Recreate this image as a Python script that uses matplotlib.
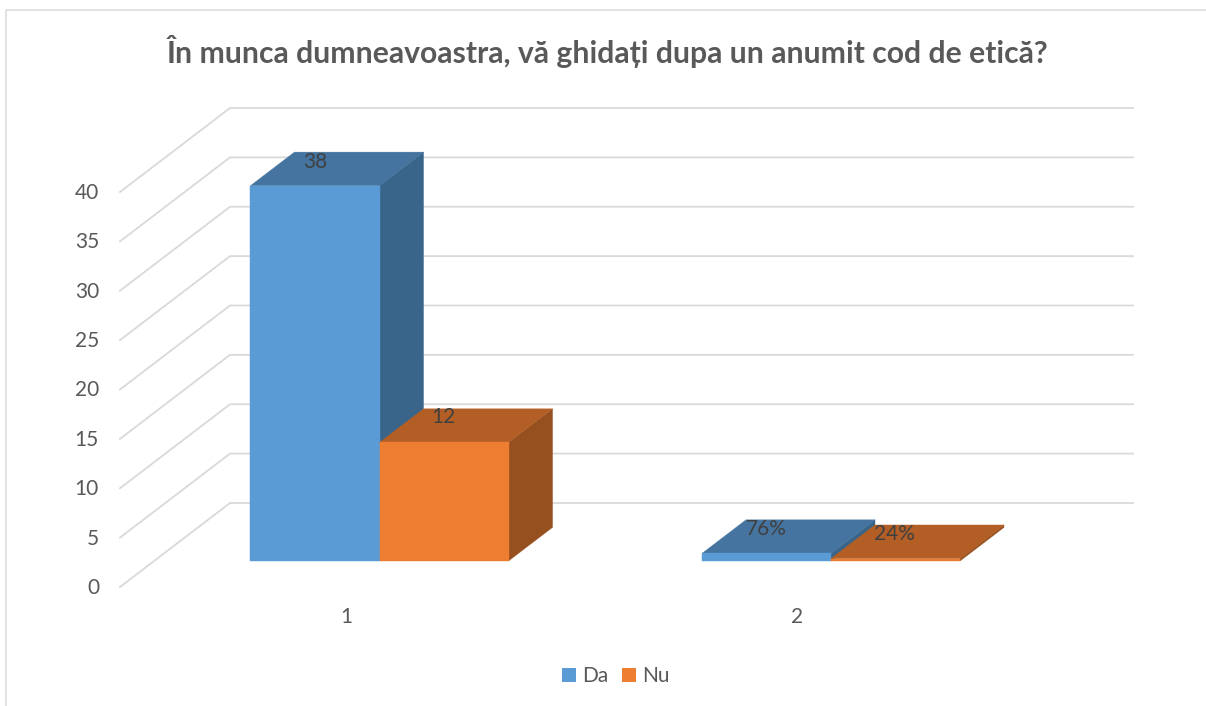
import matplotlib
matplotlib.use("Agg")
import matplotlib.pyplot as plt
from matplotlib.patches import Polygon, Rectangle

plt.rcParams['font.family'] = ['Lato', 'DejaVu Sans']

title = "În munca dumneavoastra, vă ghidați dupa un anumit cod de etică?"
categories = ["1", "2"]
series_names = ["Da", "Nu"]
da_values = [38, 0.76]
nu_values = [12, 0.24]
da_labels = ["38", "76%"]
nu_labels = ["12", "24%"]
y_ticks = [0, 5, 10, 15, 20, 25, 30, 35, 40]

GRID = "#d9d9d9"
TEXT = "#595959"
LABEL = "#404040"
DA_COLORS = ("#5b9bd5", "#44749f", "#39658a")
NU_COLORS = ("#ed7d31", "#b25e25", "#964f1e")

# fake 3d like excel: everything goes through these, units are pixels
Y0 = 587
PX_PER_UNIT = 9.875
DEPTH_X, DEPTH_Y = 110, -84
LEFT = 120
CAT_FIRST, CAT_STEP = 345.4, 451.5
BAR_W = 129
BAR_D0, BAR_D1 = 0.31, 0.71


def proj(x, value, depth):
    return (x + DEPTH_X * depth, Y0 - value * PX_PER_UNIT + DEPTH_Y * depth)


def draw_bar(ax, x0, x1, value, colors, z):
    front = [proj(x0, 0, BAR_D0), proj(x1, 0, BAR_D0), proj(x1, value, BAR_D0), proj(x0, value, BAR_D0)]
    top = [proj(x0, value, BAR_D0), proj(x1, value, BAR_D0), proj(x1, value, BAR_D1), proj(x0, value, BAR_D1)]
    side = [proj(x1, 0, BAR_D0), proj(x1, 0, BAR_D1), proj(x1, value, BAR_D1), proj(x1, value, BAR_D0)]
    for pts, c in zip([side, top, front], [colors[2], colors[1], colors[0]]):
        ax.add_patch(Polygon(pts, closed=True, facecolor=c, edgecolor=c, lw=0.3, zorder=z))


fig = plt.figure(figsize=(12.06, 7.06), dpi=100)
ax = fig.add_axes([0, 0, 1, 1])
ax.set_xlim(0, 1206)
ax.set_ylim(706, 0)
ax.axis("off")

# chart frame
ax.plot([5.5, 5.5, 1206], [706, 9.5, 9.5], color=GRID, lw=1.1, zorder=1)

# gridlines on side wall and back wall
for t in y_ticks:
    p0 = proj(LEFT, t, 0)
    p1 = proj(LEFT, t, 1)
    p2 = proj(1023, t, 1)
    ax.plot([p0[0], p1[0], p2[0]], [p0[1], p1[1], p2[1]], color=GRID, lw=1.3, zorder=1,
            solid_joinstyle="miter")
    ax.text(p0[0] - 21, p0[1] + 1, str(t), ha="right", va="center", fontsize=15, color=TEXT)

for i, cat in enumerate(categories):
    center = CAT_FIRST + i * CAT_STEP
    ax.text(center + 0.5, 617, cat, ha="center", va="center", fontsize=15, color=TEXT)
    draw_bar(ax, center - BAR_W, center, da_values[i], DA_COLORS, 3 + i)
    draw_bar(ax, center, center + BAR_W, nu_values[i], NU_COLORS, 3 + i)

    da_top = proj(center - BAR_W / 2, da_values[i], BAR_D0)
    nu_top = proj(center + BAR_W / 2, nu_values[i], BAR_D0)
    ax.text(da_top[0], da_top[1] - 24, da_labels[i], ha="center", va="center", fontsize=15, color=LABEL, zorder=10)
    ax.text(nu_top[0] - 1, nu_top[1] - 25, nu_labels[i], ha="center", va="center", fontsize=15, color=LABEL, zorder=10)

ax.text(607.5, 51, title, ha="center", va="center", fontsize=21.7, fontweight="bold", color=TEXT)

# legend by hand so the squares land where excel puts them
ax.add_patch(Rectangle((562, 668), 14, 14, facecolor=DA_COLORS[0], edgecolor="none"))
ax.text(582, 676, series_names[0], ha="left", va="center", fontsize=15, color=TEXT)
ax.add_patch(Rectangle((622, 668), 14, 14, facecolor=NU_COLORS[0], edgecolor="none"))
ax.text(642, 676, series_names[1], ha="left", va="center", fontsize=15, color=TEXT)

fig.savefig("out.png", dpi=100)
